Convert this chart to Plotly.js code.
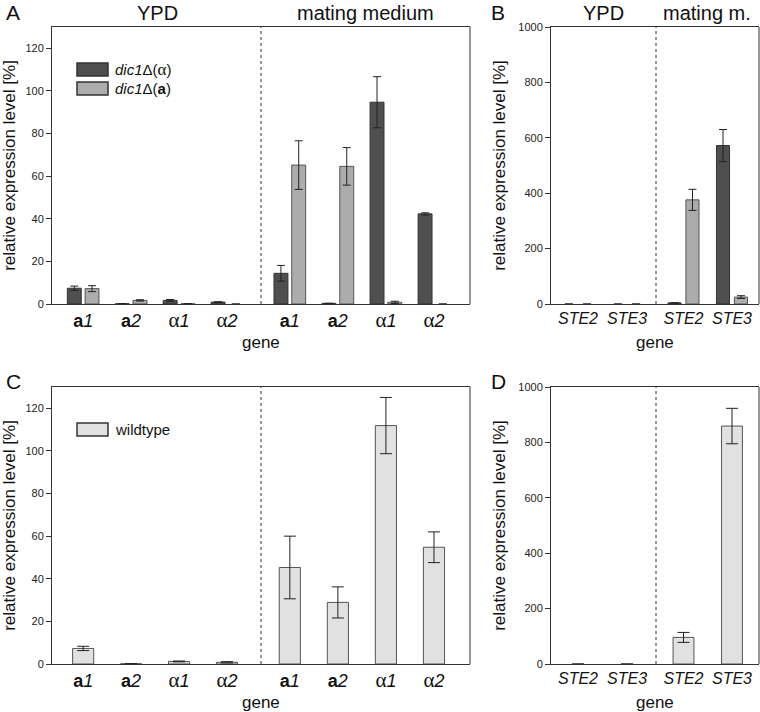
<!DOCTYPE html>
<html>
<head>
<meta charset="utf-8">
<script src="https://cdn.plot.ly/plotly-3.0.1.min.js"></script>
<style>html,body{margin:0;padding:0;background:#fff;}#chart{width:760px;height:712px;}</style>
</head>
<body>
<div id="chart"></div>
<script>
// ---------- data ----------
const genes = ['a1', 'a2', 'alpha1', 'alpha2'];
const geneLabels = [
  '<b>a</b><i>1</i>',
  '<b>a</b><i>2</i>',
  '<span style="font-family:Liberation Serif;font-size:21px">α</span><i>1</i>',
  '<span style="font-family:Liberation Serif;font-size:21px">α</span><i>2</i>'
];
const steGenes = ['STE2', 'STE3'];
const steLabels = ['<i>STE2</i>', '<i>STE3</i>'];

// Panel A: dic1Δ(α) and dic1Δ(a), relative expression [%]
const alphaYPD = [7.4, 0.1, 1.7, 0.9];
const alphaYPDErr = [1.0, 0, 0.4, 0.15];
const aYPD = [7.2, 1.7, 0.1, 0];
const aYPDErr = [1.4, 0.3, 0, 0];
const alphaMating = [14.4, 0.3, 94.7, 42.3];
const alphaMatingErr = [3.7, 0, 12.0, 0.5];
const aMating = [65.2, 64.6, 0.8, 0];
const aMatingErr = [11.4, 8.8, 0.5, 0];

// Panel B: STE genes, dic1Δ strains
const alphaSteYPD = [0, 0];
const alphaSteYPDErr = [0, 0];
const aSteYPD = [0, 0];
const aSteYPDErr = [0, 0];
const alphaSteMating = [4, 572];
const alphaSteMatingErr = [0, 58];
const aSteMating = [376, 25];
const aSteMatingErr = [38, 5];

// Panel C: wildtype
const wtYPD = [7.3, 0.1, 1.2, 0.8];
const wtYPDErr = [1.0, 0, 0.2, 0.3];
const wtMating = [45.3, 28.9, 111.9, 54.8];
const wtMatingErr = [14.7, 7.3, 13.2, 7.2];

// Panel D: wildtype STE genes
const wtSteYPD = [0, 0];
const wtSteYPDErr = [0, 0];
const wtSteMating = [96, 859];
const wtSteMatingErr = [18, 64];

// ---------- styling ----------
const W = 760, H = 712;
const px = v => v / W;
const py = v => 1 - v / H;
const FONT = 'Liberation Sans, Arial, sans-serif';
const DARK = '#4f4f4f', LIGHT = '#acacac', WT = '#e1e1e1';

function errs(arr, w) {
  return {type: 'data', array: arr, visible: true, color: '#222', thickness: 1, width: w};
}
function bar(x, y, e, xa, ya, color, offset, width, capw, lineColor) {
  return {
    type: 'bar', x: x, y: y, xaxis: xa, yaxis: ya,
    offset: offset, width: width,
    marker: {color: color, line: {color: lineColor, width: y.map(v => (v > 0 ? 1 : 0))}},
    error_y: errs(e, capw), hoverinfo: 'skip', showlegend: false
  };
}

const traces = [
  // A
  bar(genes, alphaYPD, alphaYPDErr, 'x', 'y', DARK, -0.33, 0.29, 4, '#333'),
  bar(genes, aYPD, aYPDErr, 'x', 'y', LIGHT, 0.04, 0.29, 4, '#555'),
  bar(genes, alphaMating, alphaMatingErr, 'x2', 'y', DARK, -0.33, 0.29, 4, '#333'),
  bar(genes, aMating, aMatingErr, 'x2', 'y', LIGHT, 0.04, 0.29, 4, '#555'),
  // B
  bar(steGenes, alphaSteYPD, alphaSteYPDErr, 'x3', 'y2', DARK, -0.32, 0.27, 4, '#333'),
  bar(steGenes, aSteYPD, aSteYPDErr, 'x3', 'y2', LIGHT, 0.05, 0.27, 4, '#555'),
  bar(steGenes, alphaSteMating, alphaSteMatingErr, 'x4', 'y2', DARK, -0.32, 0.27, 4, '#333'),
  bar(steGenes, aSteMating, aSteMatingErr, 'x4', 'y2', LIGHT, 0.05, 0.27, 4, '#555'),
  // C
  bar(genes, wtYPD, wtYPDErr, 'x5', 'y3', WT, -0.22, 0.44, 6, '#555'),
  bar(genes, wtMating, wtMatingErr, 'x6', 'y3', WT, -0.22, 0.44, 6, '#555'),
  // D
  bar(steGenes, wtSteYPD, wtSteYPDErr, 'x7', 'y4', WT, -0.215, 0.43, 6, '#555'),
  bar(steGenes, wtSteMating, wtSteMatingErr, 'x8', 'y4', WT, -0.215, 0.43, 6, '#555')
];

function xax(domain, anchor, range, vals, text, size) {
  return {
    domain: domain, anchor: anchor, type: 'category', range: range,
    tickvals: vals, ticktext: text, ticks: '', showgrid: false, zeroline: false,
    showline: true, mirror: true, linecolor: '#333', linewidth: 1,
    tickfont: {family: FONT, size: size, color: '#111'}, automargin: false, fixedrange: true
  };
}
function yax(domain, anchor, range, dtick) {
  return {
    domain: domain, anchor: anchor, range: range, dtick: dtick, tick0: 0,
    showgrid: false, zeroline: false, showline: true, linecolor: '#333', linewidth: 1,
    ticks: 'outside', ticklen: 5, tickcolor: '#333',
    tickfont: {family: FONT, size: 11, color: '#222'},
    title: {text: 'relative expression level [%]', font: {family: FONT, size: 17, color: '#111'}, standoff: 8},
    automargin: false, fixedrange: true
  };
}

const topA = [py(304), py(27)], topC = [py(664), py(387)];
const rYPD = [-0.65, 3.71], rMat = [-0.6, 3.75];
const rSteYPD = [-0.55, 1.59], rSteMat = [-0.567, 1.557];

const layout = {
  width: W, height: H, margin: {l: 0, r: 0, t: 0, b: 0},
  paper_bgcolor: '#fff', plot_bgcolor: '#fff',
  font: {family: FONT, color: '#111'},
  barmode: 'overlay', showlegend: false,
  xaxis:  xax([px(52), px(261)], 'y', rYPD, genes, geneLabels, 18),
  xaxis2: xax([px(261), px(470)], 'y', rMat, genes, geneLabels, 18),
  xaxis3: xax([px(551), px(656)], 'y2', rSteYPD, steGenes, steLabels, 16),
  xaxis4: xax([px(656), px(759)], 'y2', rSteMat, steGenes, steLabels, 16),
  xaxis5: xax([px(52), px(261)], 'y3', rYPD, genes, geneLabels, 18),
  xaxis6: xax([px(261), px(470)], 'y3', rMat, genes, geneLabels, 18),
  xaxis7: xax([px(551), px(656)], 'y4', rSteYPD, steGenes, steLabels, 16),
  xaxis8: xax([px(656), px(759)], 'y4', rSteMat, steGenes, steLabels, 16),
  yaxis:  yax(topA, 'x', [0, 130], 20),
  yaxis2: yax(topA, 'x3', [0, 1000], 200),
  yaxis3: yax(topC, 'x5', [0, 130], 20),
  yaxis4: yax(topC, 'x7', [0, 1000], 200),
  shapes: [],
  annotations: []
};

// frame right edges and dotted separators
function vline(x, y0, y1, dash) {
  return {type: 'line', xref: 'paper', yref: 'paper', x0: px(x), x1: px(x), y0: py(y0), y1: py(y1),
          line: {color: '#333', width: 1, dash: dash}};
}
layout.shapes.push(vline(470, 304, 27, 'solid'), vline(261, 304, 27, 'dot'));
layout.shapes.push(vline(759, 304, 27, 'solid'), vline(656, 304, 27, 'dot'));
layout.shapes.push(vline(470, 664, 387, 'solid'), vline(261, 664, 387, 'dot'));
layout.shapes.push(vline(759, 664, 387, 'solid'), vline(656, 664, 387, 'dot'));

function ann(text, x, y, size, xanchor) {
  return {text: text, xref: 'paper', yref: 'paper', x: px(x), y: py(y), showarrow: false,
          xanchor: xanchor || 'center', yanchor: 'middle', font: {family: FONT, size: size, color: '#111'}};
}
function box(x0, y0, x1, y1, color) {
  return {type: 'rect', xref: 'paper', yref: 'paper', x0: px(x0), x1: px(x1), y0: py(y1), y1: py(y0),
          fillcolor: color, line: {color: '#333', width: 1.5}};
}
layout.annotations.push(
  ann('A', 13, 13, 21), ann('YPD', 157, 13, 20), ann('mating medium', 365, 13, 20),
  ann('B', 498, 13, 21), ann('YPD', 603, 13, 20), ann('mating m.', 707, 13, 20),
  ann('C', 13, 381, 21), ann('D', 498, 381, 21),
  ann('gene', 261, 342, 17), ann('gene', 655, 343, 17),
  ann('gene', 261, 702, 17), ann('gene', 655, 702, 17),
  ann('<i>dic1</i>Δ(<span style="font-family:Liberation Serif;font-size:17px">α</span>)', 113, 69.5, 15, 'left'),
  ann('<i>dic1</i>Δ(<b>a</b>)', 113, 88.5, 15, 'left'),
  ann('wildtype', 113, 429.5, 15, 'left')
);
layout.shapes.push(box(77, 63, 108, 76, DARK), box(77, 82, 108, 95, LIGHT), box(77, 423, 108, 436, WT));

Plotly.newPlot('chart', traces, layout, {staticPlot: true, displayModeBar: false});
</script>
</body>
</html>
